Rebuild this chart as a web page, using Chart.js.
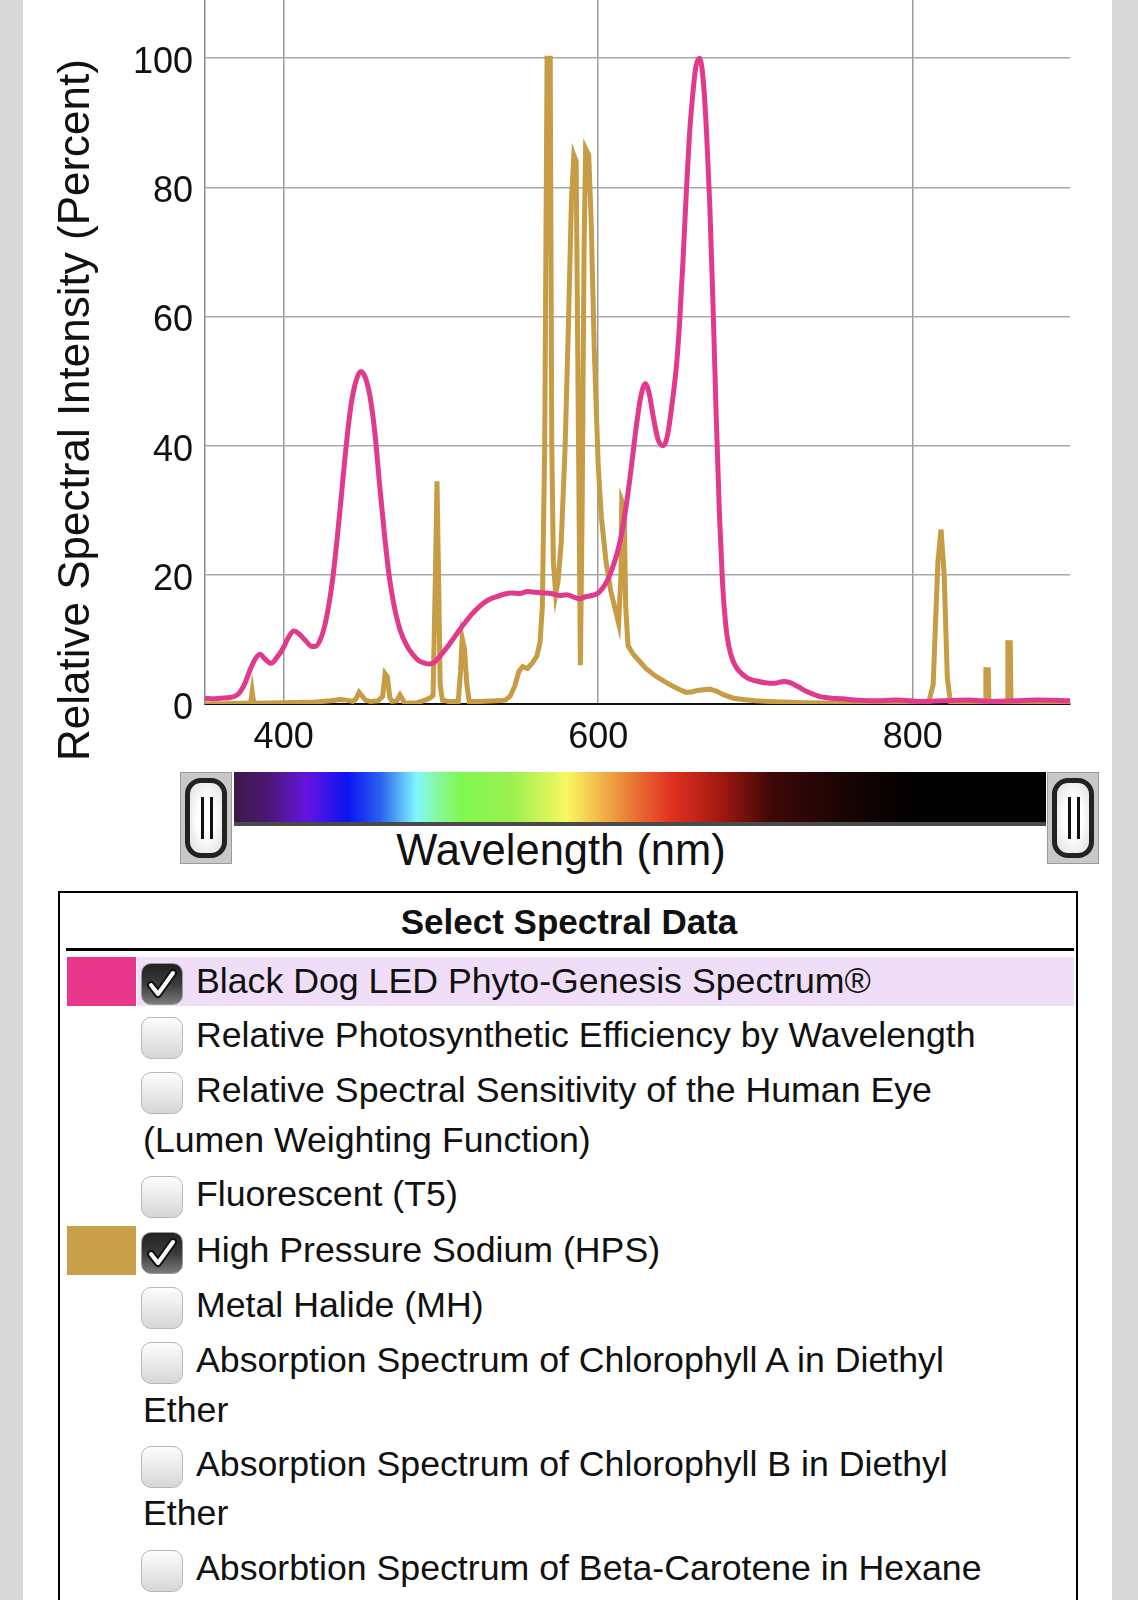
<!DOCTYPE html>
<html>
<head>
<meta charset="utf-8">
<script src="https://cdn.jsdelivr.net/npm/chart.js@4.4.1/dist/chart.umd.min.js"></script>
<style>
  html, body { margin:0; padding:0; }
  body { width:1138px; height:1600px; background:#d9d9d9; position:relative; overflow:hidden;
         font-family:"Liberation Sans", Arial, Helvetica, sans-serif; color:#111; }
  #panel { position:absolute; left:23px; top:0; width:1089px; height:1600px; background:#fff; }
  #c { position:absolute; left:0; top:0; }
  #bar { position:absolute; left:234px; top:772px; width:812px; height:50px; border-bottom:4px solid #4a4a4a;
    background:linear-gradient(to right,#3b1848 0%,#4a1870 4%,#6414e0 9%,#0a14f0 14%,#2a60f0 18%,#80f8ff 22.5%,#88f8a0 25%,#80f850 28%,#98f050 34%,#f8f860 41%,#f0a844 46%,#e86830 50%,#e03020 54%,#a01810 60%,#400808 66%,#1a0404 75%,#000 84%,#000 100%); }
  .handle { position:absolute; top:772px; width:52px; height:92px; background:#c8c8c8; box-sizing:border-box; border:1px solid #9a9a9a; }
  .handle .in { position:absolute; left:4px; top:5px; right:4px; bottom:5px; border:5px solid #222; border-radius:16px;
    background:radial-gradient(ellipse at center,#fff 40%,#ddd 100%); }
  .handle .ln { position:absolute; top:14px; bottom:14px; width:3px; background:#111; }
  #wl { position:absolute; left:0; width:1122px; top:824px; text-align:center; font-size:43.5px; line-height:52px; }
  #legend { position:absolute; left:58px; top:891px; width:1020px; height:760px; border:2px solid #000; box-sizing:border-box; }
  #ltitle { position:absolute; left:0; width:1138px; top:901px; text-align:center; font-weight:bold; font-size:35px; line-height:42px; }
  #uline { position:absolute; left:66px; top:948px; width:1008px; height:3px; background:#000; }
  .sw { position:absolute; left:67px; width:69px; height:49px; }
  .hl { position:absolute; left:137px; top:957px; width:937px; height:49px; background:#f0def8; }
  .cb { position:absolute; left:141px; width:42px; height:42px; box-sizing:border-box; border-radius:10px; }
  .cb.off { border:1.5px solid #b8b8b8; background:linear-gradient(#fdfdfd,#d6d6d6); }
  .cb.on { border:1.5px solid #999; background:linear-gradient(#222,#3a3a3a 50%,#7a7a7a); }
  .cb svg { position:absolute; left:3px; top:3px; }
  .lt { position:absolute; font-size:35.7px; line-height:42px; white-space:nowrap; }
</style>
</head>
<body>
<div id="panel"></div>
<canvas id="c" width="1138" height="760"></canvas>

<div class="handle" style="left:180px"><div class="in"><div class="ln" style="left:11px"></div><div class="ln" style="left:20px"></div></div></div>
<div id="bar"></div>
<div class="handle" style="left:1047px"><div class="in"><div class="ln" style="left:11px"></div><div class="ln" style="left:20px"></div></div></div>
<div id="wl">Wavelength (nm)</div>

<div id="legend"></div>
<div id="ltitle">Select Spectral Data</div>
<div id="uline"></div>
<div class="hl"></div>
<div class="sw" style="top:957px;background:#e8378a"></div>
<div class="sw" style="top:1226px;background:#c8a04a"></div>
<div id="rows"></div>

<script>
// ---------- data ----------
const yAxisTitle = 'Relative Spectral Intensity (Percent)';
const xTicks = [400, 600, 800];
const yTicks = [0, 20, 40, 60, 80, 100];

// Black Dog LED Phyto-Genesis Spectrum (wavelength nm / relative %)
const pinkNm = [350,355,360,366,371,375,379,382,385,388,
  392,396,400,403,406.5,410,414,418,420,423,
  426,428.5,431,434,437,440,443,446,449,452,
  455,458,461,464,467,470,474,478,482,486,
  490,493,496,499,503,507,511,516,520,525,
  530,535,540,545,550,555,560,565,570,575,
  580,585,588,592,596,600,603,606,609,612,
  615,618,621,624,627,630,632.5,635,638,641.5,
  644,647,650,652,654,656,658,660,662,664.5,
  667,669,671,673,675,677,679,681,683,686,
  690,695,700,706,712,718,722,727,732,737,
  742,748,755,765,775,790,805,820,835,850,
  865,880,900];
const pinkVal = [0.9,0.8,0.9,1.0,1.5,3.0,5.5,7.0,7.7,7.0,
  6.3,7.3,8.8,10.3,11.3,10.8,9.8,8.9,8.9,9.8,
  12,15,19,25.5,33,40.5,46.5,50,51.5,50.5,
  47.5,42,34,26.5,20,15.5,11.5,9.2,7.7,6.7,
  6.3,6.2,6.5,7.3,8.5,9.8,11.2,12.8,14,15.2,
  16.1,16.6,17,17.2,17.1,17.4,17.3,17.2,17.1,16.8,
  16.9,16.5,16.3,16.6,16.8,17.2,18,19.2,21,23.3,
  26.5,31,36.5,42.5,47.5,49.6,48,44.5,41,40,
  41.5,46.5,53,60,69,79,88,94,98.5,100,
  96,88,77,62,45,30,19,12.5,9,6.5,
  5,4,3.6,3.3,3.2,3.5,3.3,2.7,2.0,1.5,
  1.1,0.9,0.8,0.6,0.5,0.6,0.4,0.5,0.6,0.4,
  0.5,0.6,0.5];

// High Pressure Sodium (HPS)
const hpsNm = [350,360,375,379,380,381,400,420,430,436,
  440,444,446,448,450,452,455,460,463,464.5,
  466,467.5,469,472,474,475.5,477,485,490,493,
  495,496.5,497.5,498.5,499.5,501,505,511,512.5,513.5,
  515,516.5,518,525,535,541,544,547,549.5,552,
  555,558,561,563,564.5,566,567.5,569.5,570.5,571.5,
  573,574.5,576.5,579,581,583,584.5,586,587.5,588.7,
  589.8,591,592,594,595.5,597.5,600,602,605,608,
  611,613,614.5,615,616.5,617.5,619,622,626,630,
  636,642,647,652,656,660,663,667,671,675,
  680,686,692,700,712,730,756,780,810,813,
  816,818,820,822,824,846,846.5,848,848.5,860,
  860.5,862,862.5,900];
const hpsVal = [0,0.05,0.1,0.1,1.9,0.1,0.2,0.3,0.5,0.7,
  0.6,0.4,0.8,1.8,1.2,0.6,0.4,0.5,1.2,4.7,
  4.2,1.0,0.4,0.5,1.4,0.8,0.1,0.2,0.6,0.9,
  1.3,20,34.5,20,3,0.6,0.4,0.4,5,10.2,
  8.5,3,0.4,0.4,0.5,0.6,1.2,2.8,5,5.8,
  5.5,6.3,7.4,9.5,15,40,100,100,40,22,
  17,19,25,40,58,78,85,84,40,6,
  30,70,86,85,75,55,37,29,22,17.5,
  14.5,12.5,20,31.5,30.5,15,9,7.8,6.7,5.6,
  4.4,3.5,2.8,2.2,1.8,1.9,2.1,2.2,2.3,2,
  1.4,0.9,0.7,0.5,0.35,0.2,0.1,0.05,0.1,3,
  22,27,20,4,0.2,0.1,5.3,5.3,0.1,0.1,
  9.5,9.5,0.1,0.05];

// legend rows: [text, checked, textCenterY]
const legendItems = [
  ['Black Dog LED Phyto-Genesis Spectrum®', true, 981],
  ['Relative Photosynthetic Efficiency by Wavelength', false, 1035],
  ['Relative Spectral Sensitivity of the Human Eye', false, 1090],
  ['(Lumen Weighting Function)', null, 1140],
  ['Fluorescent (T5)', false, 1194],
  ['High Pressure Sodium (HPS)', true, 1250],
  ['Metal Halide (MH)', false, 1305],
  ['Absorption Spectrum of Chlorophyll A in Diethyl', false, 1360],
  ['Ether', null, 1410],
  ['Absorption Spectrum of Chlorophyll B in Diethyl', false, 1464],
  ['Ether', null, 1513],
  ['Absorbtion Spectrum of Beta-Carotene in Hexane', false, 1568]
];

// ---------- legend ----------
const rows = document.getElementById('rows');
legendItems.forEach(([t, chk, cy]) => {
  const d = document.createElement('div');
  d.className = 'lt';
  d.textContent = t;
  d.style.top = (cy - 21) + 'px';
  d.style.left = (chk === null ? 143 : 196) + 'px';
  rows.appendChild(d);
  if (chk !== null) {
    const b = document.createElement('div');
    b.className = 'cb ' + (chk ? 'on' : 'off');
    b.style.top = (cy + 3 - 21) + 'px';
    if (chk) {
      b.innerHTML = '<svg width="34" height="34" viewBox="0 0 34 34"><polyline points="6,18 13,27 28,6" fill="none" stroke="#111" stroke-width="8" stroke-linejoin="round" stroke-linecap="round"/><polyline points="6,18 13,27 28,6" fill="none" stroke="#fff" stroke-width="4" stroke-linejoin="round" stroke-linecap="round"/></svg>';
    }
    rows.appendChild(b);
  }
});

// ---------- chart ----------
const FONT = '"Liberation Sans", Arial, Helvetica, sans-serif';
const yTitlePlugin = {
  id: 'yTitle',
  afterDraw(chart) {
    const c = chart.ctx;
    c.save();
    c.translate(77, 410);
    c.rotate(-Math.PI / 2);
    c.font = '44px ' + FONT;
    c.fillStyle = '#111';
    c.textAlign = 'center';
    c.textBaseline = 'middle';
    c.fillText(yAxisTitle, 0, 0);
    c.restore();
  }
};

new Chart(document.getElementById('c'), {
  type: 'line',
  data: {
    datasets: [
      { label: 'Black Dog LED Phyto-Genesis Spectrum®',
        data: pinkNm.map((x, i) => ({ x, y: pinkVal[i] })),
        borderColor: '#e1398b', borderWidth: 5, pointRadius: 0,
        cubicInterpolationMode: 'monotone', fill: false },
      { label: 'High Pressure Sodium (HPS)',
        data: hpsNm.map((x, i) => ({ x, y: hpsVal[i] })),
        borderColor: '#c69c44', borderWidth: 5, pointRadius: 0,
        tension: 0, fill: false }
    ]
  },
  options: {
    responsive: false, animation: false, devicePixelRatio: 1,
    layout: { autoPadding: false, padding: { left: 0, right: 68, top: 0, bottom: 0 } },
    plugins: { legend: { display: false }, tooltip: { enabled: false } },
    scales: {
      x: {
        type: 'linear', min: 350, max: 900,
        afterBuildTicks: s => { s.ticks = xTicks.map(v => ({ value: v })); },
        afterFit: s => { s.height = 56; s.paddingLeft = 0; s.paddingRight = 0; s.paddingTop = 0; s.paddingBottom = 0; },
        grid: { color: '#9a9a9a', lineWidth: 1.5, drawTicks: false },
        border: { color: '#111', width: 2 },
        ticks: { color: '#111', font: { size: 36, family: FONT }, padding: 12, maxRotation: 0, autoSkip: false }
      },
      y: {
        type: 'linear', min: 0, max: 109,
        afterBuildTicks: s => { s.ticks = yTicks.map(v => ({ value: v })); },
        afterFit: s => { s.width = 205; s.paddingTop = 0; s.paddingBottom = 0; s.paddingLeft = 0; s.paddingRight = 0; },
        grid: { color: '#a8a8a8', lineWidth: 1.5, drawTicks: false },
        border: { color: '#8a8a8a', width: 1.5 },
        ticks: { color: '#111', font: { size: 36, family: FONT }, padding: 12, labelOffset: 5, autoSkip: false }
      }
    }
  },
  plugins: [yTitlePlugin]
});
</script>
</body>
</html>
